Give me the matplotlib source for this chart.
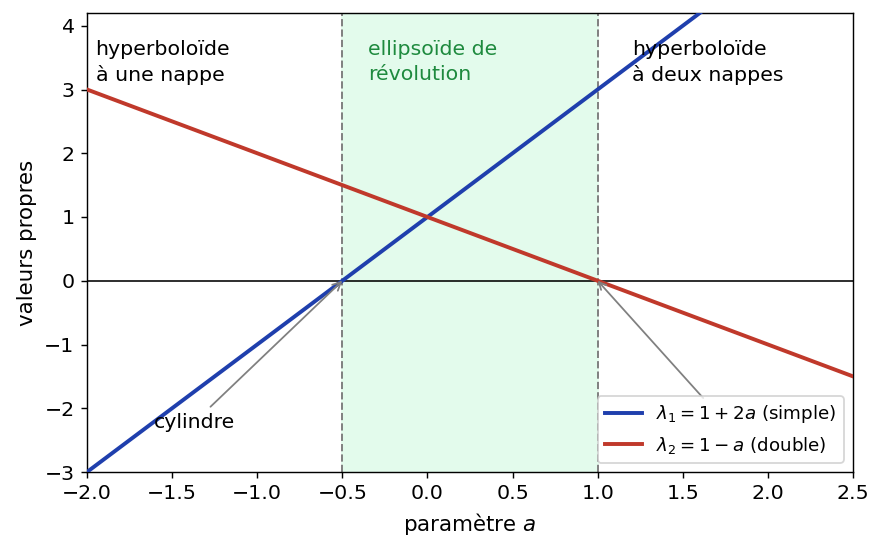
import numpy as np
import matplotlib
matplotlib.use("Agg")
import matplotlib.pyplot as plt

a_vals = [-2.0, 2.5]
lam1 = [1 + 2 * a for a in a_vals]   # simple
lam2 = [1 - a for a in a_vals]       # double
boundaries = [-0.5, 1.0]
region_labels = ["hyperboloïde\nà une nappe", "ellipsoïde de\nrévolution", "hyperboloïde\nà deux nappes"]
region_x = [-1.95, -0.35, 1.2]
xticks = [-2.0, -1.5, -1.0, -0.5, 0.0, 0.5, 1.0, 1.5, 2.0, 2.5]
yticks = [-3, -2, -1, 0, 1, 2, 3, 4]

dpi = 128
fig = plt.figure(figsize=(883 / dpi, 551 / dpi), dpi=dpi)
ax = fig.add_axes([87 / 883, 1 - 472 / 551, (853 - 87) / 883, (472 - 13) / 551])

ax.axvspan(boundaries[0], boundaries[1], color="#e3fbec", zorder=0)
for b in boundaries:
    ax.axvline(b, color="gray", ls="--", lw=1.1, zorder=1)
ax.axhline(0, color="black", lw=0.9, zorder=1)

ax.plot(a_vals, lam1, color="#1f3fad", lw=2.2, label=r"$\lambda_1 = 1 + 2a$ (simple)", zorder=3)
ax.plot(a_vals, lam2, color="#c0392b", lw=2.2, label=r"$\lambda_2 = 1 - a$ (double)", zorder=3)

colors = ["black", "#1e8a3e", "black"]
for x, t, c in zip(region_x, region_labels, colors):
    ax.text(x, 3.77, t, ha="left", va="top", fontsize=11.5, color=c, linespacing=1.38)

ax.annotate("cylindre", xy=(boundaries[0], 0), xytext=(-1.37, -2.22),
            ha="center", va="center", fontsize=11.5,
            arrowprops=dict(arrowstyle="->", color="gray", lw=1, shrinkA=2, shrinkB=0))
ax.annotate("", xy=(boundaries[1], 0), xytext=(1.62, -1.84),
            arrowprops=dict(arrowstyle="->", color="gray", lw=1, shrinkA=0, shrinkB=0))

ax.set_xlim(-2.0, 2.5)
ax.set_ylim(-3, 4.2)
ax.set_xticks(xticks)
ax.set_yticks(yticks)
ax.tick_params(labelsize=11.5)
ax.set_xlabel(r"paramètre $a$", fontsize=12)
ax.set_ylabel("valeurs propres", fontsize=12)
leg = ax.legend(loc="lower right", fontsize=10.3)
leg.set_zorder(5)

fig.savefig("out.png", dpi=dpi)
